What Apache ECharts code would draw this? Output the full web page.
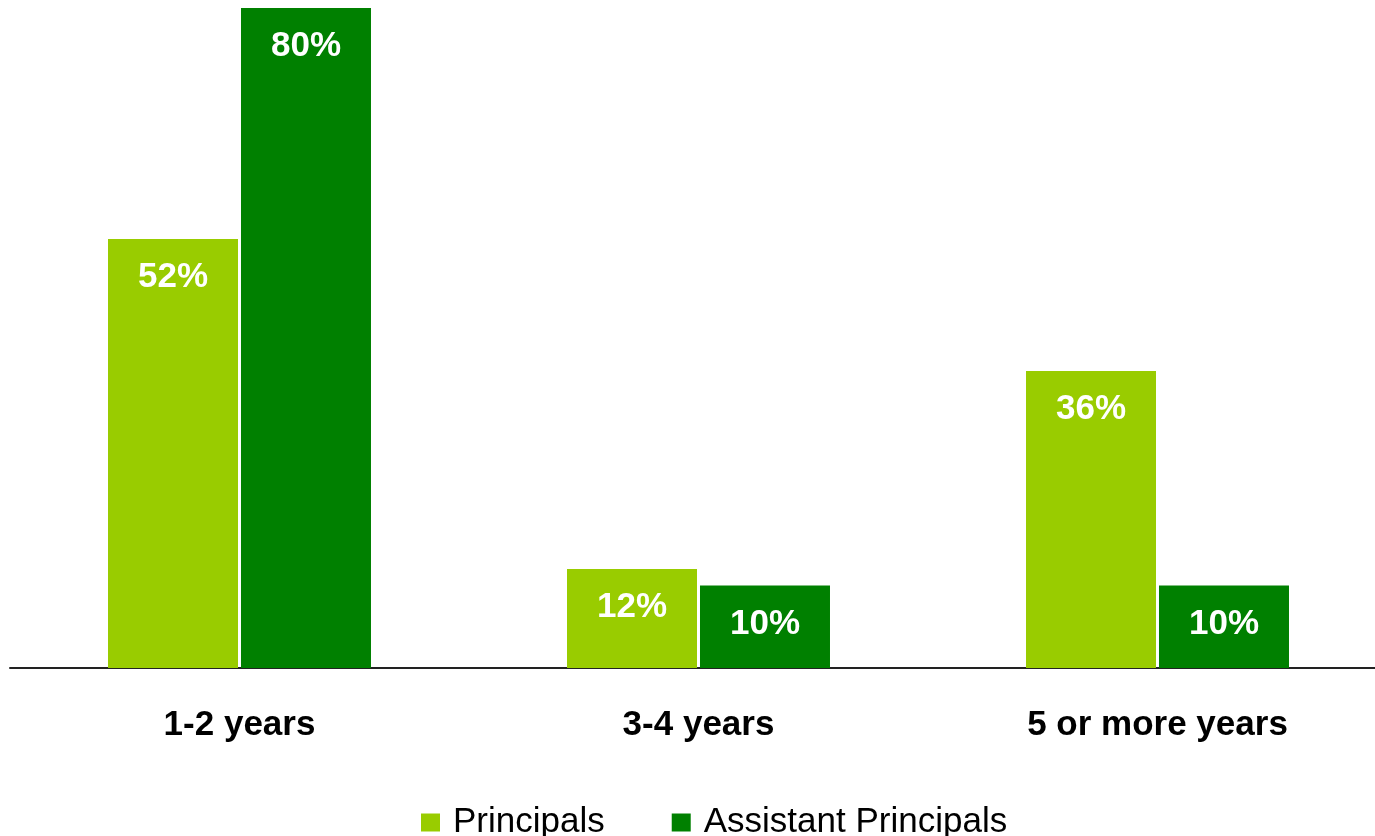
<!DOCTYPE html>
<html>
<head>
<meta charset="utf-8">
<script src="https://cdn.jsdelivr.net/npm/echarts@6/dist/echarts.min.js"></script>
<style>
html,body{margin:0;padding:0;background:#fff;overflow:hidden;width:1375px;height:836px;}
#chart{width:1390px;height:836px;}
</style>
</head>
<body>
<div id="chart"></div>
<script>
const categories = ['1-2 years', '3-4 years', '5 or more years'];
const principals = [52, 12, 36];
const assistantPrincipals = [80, 10, 10];
const seriesNames = ['Principals', 'Assistant Principals'];

const FONT = '"Liberation Sans", Arial, Helvetica, sans-serif';
const chart = echarts.init(document.getElementById('chart'), null, {renderer: 'canvas'});
const labelCfg = {
  show: true,
  position: 'insideTop',
  distance: 21,
  formatter: '{c}%',
  color: '#ffffff',
  fontFamily: FONT,
  fontWeight: 'bold',
  fontSize: 35
};
chart.setOption({
  animation: false,
  backgroundColor: '#ffffff',
  grid: {left: 10, right: 3, top: 8, bottom: 168, containLabel: false},
  legend: {
    left: 416,
    top: 800,
    itemWidth: 19,
    itemHeight: 18,
    itemGap: 67,
    icon: 'rect',
    textStyle: {fontFamily: FONT, fontSize: 35, color: '#000', padding: [0, 0, 0, 8]},
    data: seriesNames
  },
  xAxis: {
    type: 'category',
    data: categories,
    axisLine: {show: true, lineStyle: {color: '#222', width: 2}},
    axisTick: {show: false},
    axisLabel: {margin: 40, color: '#000', fontFamily: FONT, fontWeight: 'bold', fontSize: 35}
  },
  yAxis: {
    type: 'value',
    min: 0,
    max: 80,
    show: false,
    splitLine: {show: false}
  },
  series: [
    {
      name: seriesNames[0],
      type: 'bar',
      data: principals,
      barWidth: 130,
      barGap: '2.3%',
      itemStyle: {color: '#99CC00'},
      label: labelCfg
    },
    {
      name: seriesNames[1],
      type: 'bar',
      data: assistantPrincipals,
      barWidth: 130,
      itemStyle: {color: '#008000'},
      label: labelCfg
    }
  ]
});
</script>
</body>
</html>
